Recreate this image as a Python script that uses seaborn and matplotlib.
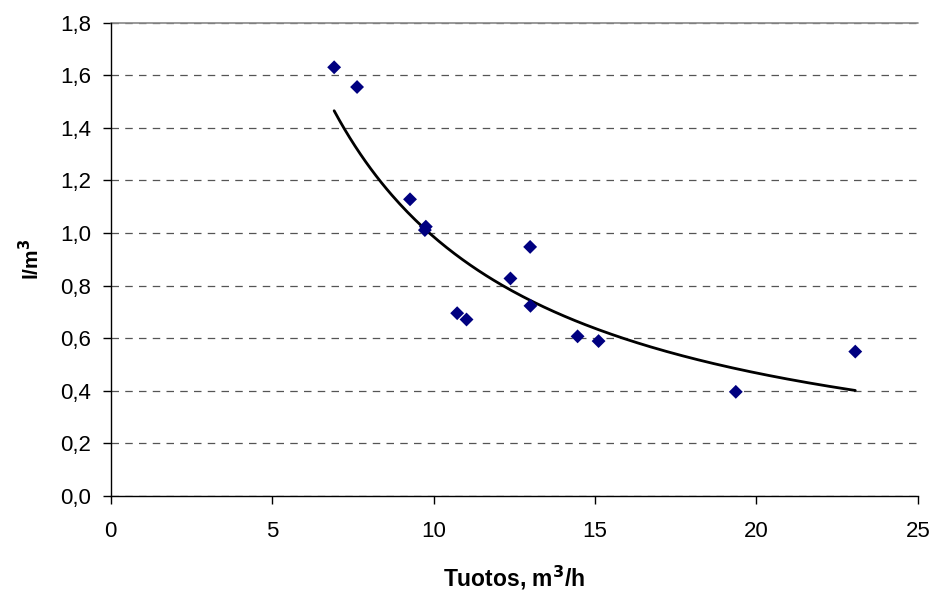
import numpy as np
import pandas as pd
import matplotlib.pyplot as plt
import seaborn as sns
from matplotlib.ticker import FuncFormatter

# mittaukset (luettu kuvasta)
tuotos = [6.92, 7.63, 9.27, 9.76, 9.73, 10.73, 11.02, 12.38, 12.99, 13.00,
          14.46, 15.11, 19.36, 23.06]
kulutus = [1.630, 1.555, 1.128, 1.024, 1.011, 0.695, 0.671, 0.827, 0.947, 0.723,
           0.607, 0.589, 0.396, 0.549]

x_ticks = [0, 5, 10, 15, 20, 25]
y_ticks = [0.0, 0.2, 0.4, 0.6, 0.8, 1.0, 1.2, 1.4, 1.6, 1.8]

df = pd.DataFrame({'Tuotos': tuotos, 'Kulutus': kulutus})

# potenssitrendi (kuten Excel): ln y = ln a + b ln x
b, ln_a = np.polyfit(np.log(df['Tuotos']), np.log(df['Kulutus']), 1)
xs = np.linspace(df['Tuotos'].min(), df['Tuotos'].max(), 200)
trend = pd.DataFrame({'Tuotos': xs, 'Kulutus': np.exp(ln_a) * xs ** b})

sns.set_style('white')
plt.rcParams['font.family'] = ['Liberation Sans', 'DejaVu Sans']
plt.rcParams['text.color'] = 'black'
plt.rcParams['axes.labelcolor'] = 'black'
plt.rcParams['xtick.color'] = 'black'
plt.rcParams['ytick.color'] = 'black'

fig = plt.figure(figsize=(9.43, 5.94), dpi=100)
ax = fig.add_axes([0.1174, 0.165, 0.856, 0.797])

sns.lineplot(data=trend, x='Tuotos', y='Kulutus', ax=ax, color='black',
             linewidth=2.0, zorder=3)
sns.scatterplot(data=df, x='Tuotos', y='Kulutus', ax=ax, marker='D',
                color='#000080', s=50, edgecolor='none', zorder=4)

ax.set_xlim(0, 25)
ax.set_ylim(0, 1.8)
ax.set_xticks(x_ticks)
ax.set_yticks(y_ticks)
ax.yaxis.set_major_formatter(FuncFormatter(lambda v, p: f'{v:.1f}'.replace('.', ',')))

ax.grid(axis='y', color='#555555', linestyle=(0, (6, 5)), linewidth=0.9)
ax.grid(axis='x', visible=False)
ax.set_axisbelow(True)

for s in ['top', 'right']:
    ax.spines[s].set_visible(False)
for s in ['left', 'bottom']:
    ax.spines[s].set_color('black')
    ax.spines[s].set_linewidth(1.0)
ax.axhline(1.8, color='#888888', linewidth=1.2, zorder=1, clip_on=False)

ax.tick_params(axis='both', direction='out', length=6, width=1, color='black',
               labelsize=16, bottom=True, left=True)
ax.tick_params(axis='x', pad=12)
ax.tick_params(axis='y', pad=8)

ax.set_xlabel('Tuotos, m$^{\\mathbf{3}}$/h', fontsize=16.5, fontweight='bold',
              labelpad=16)
ax.set_ylabel('l/m$^{\\mathbf{3}}$', fontsize=15, fontweight='bold', labelpad=12)

plt.savefig('out.png', dpi=100, facecolor='white')
